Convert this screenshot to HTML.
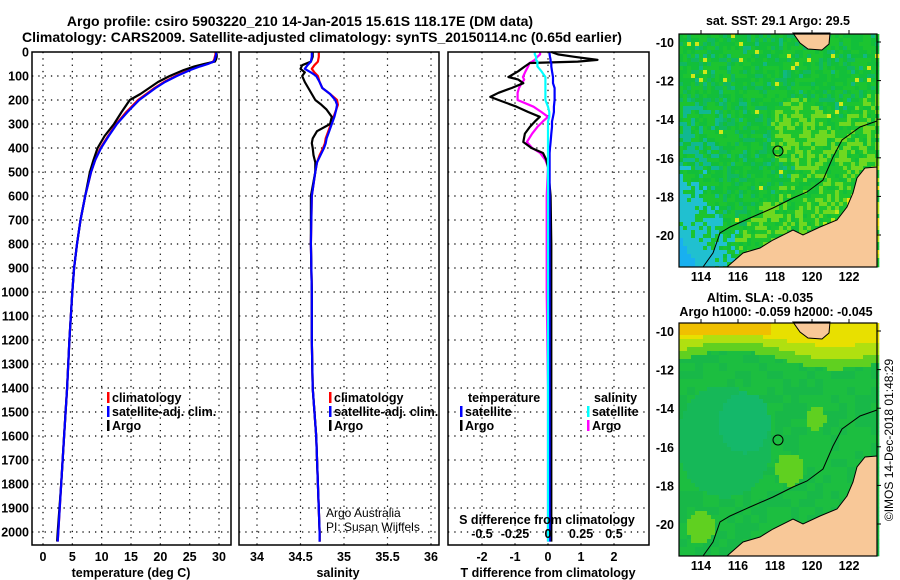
<!DOCTYPE html>
<html><head><meta charset="utf-8">
<style>
html,body{margin:0;padding:0;background:#fff;}
svg{display:block;font-family:"Liberation Sans",Arial,sans-serif;}
.b{font-weight:bold;font-size:12.5px;}
.n{font-weight:normal;font-size:12px;}
.t{font-weight:bold;font-size:14px;}
</style></head>
<body>
<svg id="s" width="900" height="580" viewBox="0 0 900 580" xmlns="http://www.w3.org/2000/svg">
<text class="t" x="300" y="26" text-anchor="middle">Argo profile: csiro 5903220_210 14-Jan-2015 15.61S 118.17E (DM data)</text>
<text class="t" x="322" y="42" text-anchor="middle">Climatology: CARS2009. Satellite-adjusted climatology: synTS_20150114.nc (0.65d earlier)</text>
<g id="g"></g>
</svg>
<script>
// ---- profile data (depth in m) ----
const depthT = [0,10,20,30,40,50,60,75,100,125,150,175,200,250,300,350,400,450,500,600,700,800,900,1000,1200,1400,1600,1800,2000,2040];
const argoTemp = [29.5,29.6,29.6,29.5,29.3,27.5,25.8,24.0,21.6,19.6,18.1,16.6,14.8,13.4,12.1,10.5,9.3,8.6,8.0,7.2,6.4,5.8,5.3,5.0,4.5,4.1,3.6,3.1,2.5,2.4];
const climTemp = [29.4,29.4,29.3,29.2,29.0,28.0,26.6,24.9,22.6,20.6,19.0,17.6,16.2,14.2,12.5,11.1,9.8,8.9,8.2,7.2,6.4,5.8,5.3,5.0,4.5,4.1,3.6,3.1,2.6,2.5];
const satTemp  = [29.5,29.5,29.4,29.3,29.1,28.1,26.8,25.1,22.8,20.8,19.2,17.8,16.4,14.4,12.6,11.2,9.9,8.9,8.2,7.2,6.4,5.8,5.3,5.0,4.5,4.1,3.6,3.1,2.6,2.5];
const depthS = [0,20,40,55,70,85,100,125,150,175,200,220,240,270,300,330,360,380,400,430,460,500,600,800,1000,1200,1400,1600,1800,2000,2040];
const argoSal = [34.64,34.64,34.62,34.52,34.50,34.55,34.52,34.55,34.59,34.63,34.67,34.74,34.80,34.86,34.84,34.69,34.64,34.63,34.64,34.65,34.67,34.67,34.62,34.62,34.63,34.63,34.64,34.68,34.70,34.72,34.72];
const climSal = [34.71,34.71,34.70,34.66,34.63,34.66,34.70,34.72,34.75,34.84,34.92,34.93,34.91,34.88,34.85,34.82,34.79,34.78,34.76,34.72,34.69,34.67,34.63,34.62,34.63,34.63,34.64,34.68,34.70,34.72,34.72];
const satSal  = [34.63,34.63,34.62,34.58,34.55,34.62,34.68,34.72,34.75,34.84,34.90,34.92,34.91,34.89,34.86,34.83,34.80,34.79,34.77,34.73,34.69,34.67,34.63,34.62,34.63,34.63,34.64,34.68,34.70,34.72,34.72];
// differences
const depthD = [0,10,20,33,40,46,60,80,104,115,130,150,170,187,200,228,250,270,290,312,340,375,400,421,450,479,600,800,1000,1400,1800,2040];
const argoTdiff = [0.1,0.3,0.8,1.5,0.9,-0.55,-0.7,-0.9,-1.2,-0.9,-0.75,-1.1,-1.5,-1.75,-1.5,-0.95,-0.6,-0.25,-0.4,-0.55,-0.7,-0.75,-0.5,-0.15,-0.05,0.0,0.08,0.1,0.1,0.1,0.1,0.1];
const satTdiff  = [0.05,0.05,0.06,0.08,0.08,0.1,0.1,0.12,0.15,0.15,0.15,0.2,0.2,0.2,0.2,0.18,0.18,0.15,0.12,0.12,0.1,0.08,0.06,0.05,0.05,0.05,0.05,0.05,0.05,0.05,0.05,0.05];
const argoSdiff = [-0.06,-0.06,-0.08,-0.1,-0.12,-0.14,-0.15,-0.17,-0.19,-0.18,-0.2,-0.22,-0.23,-0.23,-0.23,-0.11,-0.05,0.0,-0.04,-0.08,-0.12,-0.16,-0.12,-0.06,-0.02,0.0,-0.01,-0.01,-0.01,0.0,0.0,0.0];
const satSdiff  = [-0.1,-0.1,-0.09,-0.09,-0.08,-0.08,-0.08,-0.05,-0.02,-0.02,-0.02,-0.02,-0.02,-0.02,-0.02,0.0,0.01,0.01,0.0,0.0,0.0,0.0,0.0,0.0,0.0,0.0,0.0,0.0,0.0,0.0,0.0,0.0];
const depthTicks = [0,100,200,300,400,500,600,700,800,900,1000,1100,1200,1300,1400,1500,1600,1700,1800,1900,2000];
const tempTicks = [0,5,10,15,20,25,30];
const salTicks = [34,34.5,35,35.5,36];
const tdTicks = [-2,-1,0,1,2];
const sdTicks = [-0.5,-0.25,0,0.25,0.5];
const lonTicks = [114,116,118,120,122];
const latTicks = [-10,-12,-14,-16,-18,-20];

const NS="http://www.w3.org/2000/svg";
const G=document.getElementById('g');
function mk(tag,attrs,parent){const e=document.createElementNS(NS,tag);for(const k in attrs)e.setAttribute(k,attrs[k]);(parent||G).appendChild(e);return e;}
function txt(x,y,s,cls,anchor,parent){const e=mk('text',{x:x,y:y,'class':cls||'b','text-anchor':anchor||'start'},parent);e.textContent=s;return e;}

const TOP=52,BOT=545;
const yD=d=>TOP+d*0.24;
const xT=v=>43+v*(176/30);
const xS=v=>257+(v-34)*87;
const xTd=v=>548+v*33;
const xSd=v=>548+v*132;
const panels=[[32,231],[239,439],[448,649]];

panels.forEach(([l,r])=>{
  depthTicks.forEach(d=>{if(d===0)return;const ln=mk('line',{x1:l,x2:r,y1:yD(d),y2:yD(d),stroke:'#000','stroke-width':1.2,'stroke-dasharray':'1.3 5'});
  
  });
});
function vgrid(ticks,fx){ticks.forEach(v=>{const ln=mk('line',{x1:fx(v),x2:fx(v),y1:TOP,y2:BOT,stroke:'#000','stroke-width':1.2,'stroke-dasharray':'1.3 5'});
  
  });}
vgrid(tempTicks,xT);vgrid(salTicks,xS);vgrid(tdTicks,xTd);
depthTicks.forEach(d=>{const t=txt(29,yD(d)+4.5,String(d),'b','end');
  
  });

function series(ds,vs,fx,color,name){
  const pts=[];ds.forEach((d,i)=>{if(vs[i]!=null)pts.push(fx(vs[i]).toFixed(1)+','+yD(d).toFixed(1));});
  const p=mk('polyline',{points:pts.join(' '),fill:'none',stroke:color,'stroke-width':2.2,'stroke-linejoin':'round'});
  
  
}
series(depthT,climTemp,xT,'#ff0000','temp-climatology-line');
series(depthT,argoTemp,xT,'#000000','temp-argo-line');
series(depthT,satTemp,xT,'#0000ff','temp-satellite-line');
series(depthS,climSal,xS,'#ff0000','sal-climatology-line');
series(depthS,argoSal,xS,'#000000','sal-argo-line');
series(depthS,satSal,xS,'#0000ff','sal-satellite-line');
series(depthD,argoSdiff,xSd,'#ff00ff','sdiff-argo-line');
series(depthD,argoTdiff,xTd,'#000000','tdiff-argo-line');
series(depthD,satTdiff,xTd,'#0000ff','tdiff-satellite-line');
series(depthD,satSdiff,xSd,'#00ffff','sdiff-satellite-line');

panels.forEach(([l,r],i)=>{const f=mk('rect',{x:l,y:TOP,width:r-l,height:BOT-TOP,fill:'none',stroke:'#000','stroke-width':1.5});
  
  });
tempTicks.forEach(v=>{const t=txt(xT(v),561,String(v),'b','middle');});
salTicks.forEach(v=>{const t=txt(xS(v),561,String(v),'b','middle');});
tdTicks.forEach(v=>{const t=txt(xTd(v),561,String(v),'b','middle');});
sdTicks.forEach(v=>{const t=txt(xSd(v),538,String(v),'b','middle');});
let t;
t=txt(131,577,'temperature (deg C)','b','middle');
t=txt(338,577,'salinity','b','middle');
t=txt(548,577,'T difference from climatology','b','middle');
t=txt(547,524,'S difference from climatology','b','middle');
t=txt(326,517,'Argo Australia','n','start');
t=txt(326,531,'PI: Susan Wijffels','n','start');

function legend(x,y,color,label,name){
  const m=mk('rect',{x:x,y:y-10,width:2.5,height:11,fill:color});
  
  
  const tt=txt(x+5,y,label,'b','start');
  
  
}
legend(107,402,'#ff0000','climatology','legend-climatology');
legend(107,416,'#0000ff','satellite-adj. clim.','legend-satellite');
legend(107,430,'#000','Argo','legend-argo');
legend(329,402,'#ff0000','climatology','legend-sal-climatology');
legend(329,416,'#0000ff','satellite-adj. clim.','legend-sal-satellite');
legend(329,430,'#000','Argo','legend-sal-argo');
t=txt(468,402,'temperature','b','start');
legend(460,416,'#0000ff','satellite','legend-tdiff-satellite');
legend(460,430,'#000','Argo','legend-tdiff-argo');
t=txt(594,402,'salinity','b','start');
legend(587,416,'#00ffff','satellite','legend-sdiff-satellite');
legend(587,430,'#ff00ff','Argo','legend-sdiff-argo');

// ---- maps ----
const ML=679,MR=877,MW=MR-ML;
const lonX=v=>701+(v-114)*18.5;
const latY=(v,top)=>top+8+(-10-v)*19.3;
function hash(a,b,s){let h=(a*374761393+b*668265263+s*2246822519)|0;h=(h^(h>>>13))*1274126177|0;return ((h^(h>>>16))>>>0)/4294967296;}
const coast=[[877,167],[865,168],[857,178],[853,193],[847,207],[837,220],[820,227],[803,235],[793,230],[773,240],[760,248],[743,253],[727,267],[877,267]];
const island=[[793,33],[830,33],[829,44],[822,50],[808,49],[800,43]];
const shelf=[[877,121],[860,127],[842,140],[833,157],[823,180],[807,192],[793,198],[773,208],[750,218],[730,227],[720,233],[713,253],[703,267]];
function drawMap(top,kind,name){
  const H=233;
  const grp=mk('g',{});
  
  
  const cs=4;
  for(let i=0;i<MW/cs;i++)for(let j=0;j<H/cs;j++){
    const u=i*cs/MW,w=j*cs/H;let c;
    if(kind===1){
      const r=hash(i,j,1),s=u*0.9+w;
      const cy=(0.3-u)/0.3+(w-0.55)/0.45-0.6;
      if(u<0.3&&w>0.55&&r<cy){c=(cy>1.1&&r<0.7)?'#18b0f0':'#20c0d0';}
      else if(u<0.2&&w>0.3&&r<0.35)c='#10b890';
      else if(s>1.45&&r<0.55)c=r<0.15?'#f0e010':'#b8e818';
      else if(s>1.1&&r<0.4)c='#70d820';
      else if(Math.hypot(u-0.6,w-0.42)<0.15&&r<0.5)c='#70d820';
      else if(r<0.025)c='#d0e818';
      else if(r<0.18)c='#10b860';
      else if(r<0.24)c='#10b880';
      else c=r<0.6?'#12bf3a':'#1cc430';
    }else{
      const r=hash(Math.floor(i/2),Math.floor(j/2),2);
      const tp=0.11-0.04*Math.sin(u*6);
      if(w<0.04&&u<0.45)c='#f0c000';
      else if(w<tp*0.6)c='#e8e000';
      else if(w<tp)c='#b0e010';
      else if(w<tp+0.04)c='#60d020';
      else if(Math.hypot(u-0.32,w-0.42)<0.13)c='#14b86a';
      else if(Math.hypot(u-0.22,w-0.5)<0.24)c='#16b858';
      else if(Math.hypot(u-0.55,w-0.62)<0.07||Math.hypot(u-0.1,w-0.87)<0.07||Math.hypot(u-0.68,w-0.4)<0.05)c='#60d020';
      else c=r<0.5?'#18b848':'#1cbe40';
    }
    mk('rect',{x:ML+i*cs,y:top+j*cs,width:cs+0.3,height:Math.min(cs,H-j*cs)+0.3,fill:c},grp);
  }
  const dy=top-34;
  const sh=p=>p.map(([x,y])=>x+','+(y+dy)).join(' ');
  const land=mk('polygon',{points:sh(coast),fill:'#f8c898',stroke:'#000','stroke-width':1});
  
  
  const isl=mk('polygon',{points:sh(island),fill:'#f8c898',stroke:'#000','stroke-width':1});
  
  
  const sl=mk('polyline',{points:sh(shelf),fill:'none',stroke:'#000','stroke-width':1});
  
  
  const fl=mk('circle',{cx:778,cy:151+dy,r:5,fill:'none',stroke:'#000','stroke-width':1});
  
  
  const fr=mk('rect',{x:ML,y:top,width:MW,height:H,fill:'none',stroke:'#000','stroke-width':1.2});
  
  
  lonTicks.forEach(v=>{mk('line',{x1:lonX(v),x2:lonX(v),y1:top-4,y2:top,stroke:'#000'});
    const l=txt(lonX(v),top+H+14,String(v),'b','middle');
    
    });
  latTicks.forEach(v=>{mk('line',{x1:MR,x2:MR+4,y1:latY(v,top),y2:latY(v,top),stroke:'#000'});
    const l=txt(674,latY(v,top)+5,String(v),'b','end');
    
    });
}
drawMap(34,1,'sst-map');
drawMap(323,2,'sla-map');
t=txt(778,25,'sat. SST: 29.1 Argo: 29.5','b','middle');
t=txt(760,302,'Altim. SLA: -0.035','b','middle');
t=txt(776,316,'Argo h1000: -0.059 h2000: -0.045','b','middle');
t=txt(0,0,'©IMOS 14-Dec-2018 01:48:29','n','middle');
t.setAttribute('font-size','12.5');
t.setAttribute('transform','translate(893,440) rotate(-90)');


</script>
</body></html>
